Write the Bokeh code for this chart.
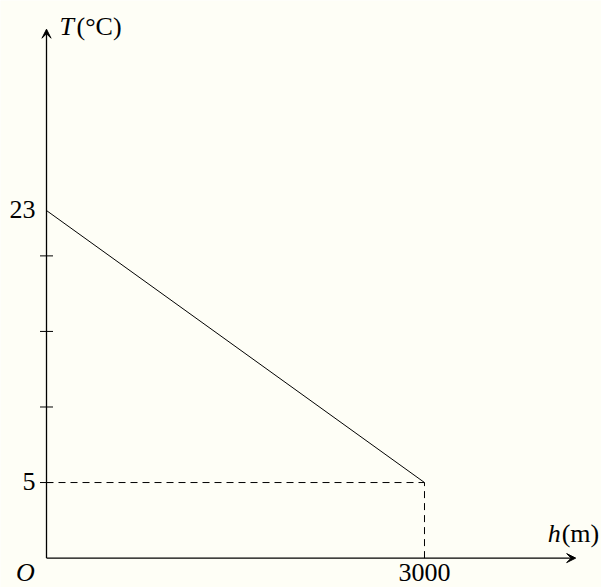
from bokeh.plotting import figure
from bokeh.models import Arrow, VeeHead, Range1d
from bokeh.embed import file_html
from bokeh.resources import INLINE
from bokeh.core.properties import value

# data
heights = [0, 3000]          # h (m)
temps = [23, 5]              # T (°C)
y_ticks = [5, 10, 15, 20]
y_tick_labels = {23: "23", 5: "5"}
x_tick_labels = {3000: "3000"}
x_axis_end = 4200
y_axis_end = 35

BG = "#fefef6"
FONT = value("Liberation Serif")
FS = "26px"
DY = -10

p = figure(width=601, height=587, output_backend="svg", toolbar_location=None,
           x_range=Range1d(-365.1, 4404.8), y_range=Range1d(-1.946, 36.90),
           min_border=0, background_fill_color=BG, border_fill_color=BG)
p.axis.visible = False
p.grid.visible = False
p.outline_line_color = None

# axes with arrows
p.add_layout(Arrow(end=VeeHead(size=9, line_color="black", fill_color="black", line_width=1),
                   x_start=0, y_start=0, x_end=x_axis_end, y_end=0,
                   line_color="black", line_width=1.3))
p.add_layout(Arrow(end=VeeHead(size=9, line_color="black", fill_color="black", line_width=1),
                   x_start=0, y_start=0, x_end=0, y_end=y_axis_end,
                   line_color="black", line_width=1.3))

# ticks on y axis
p.dash(x=[0] * len(y_ticks), y=y_ticks, size=13, line_color="black", line_width=1)

# main line
p.line(heights, temps, line_color="black", line_width=1)

# dashed guide lines
p.line([0, heights[1]], [temps[1], temps[1]], line_color="black", line_width=1, line_dash="7 5")
p.line([heights[1], heights[1]], [0, temps[1]], line_color="black", line_width=1, line_dash="7 5")

# y tick labels
yl = list(y_tick_labels.keys())
p.text(x=[0] * len(yl), y=yl, text=[y_tick_labels[k] for k in yl],
       text_align="right", text_baseline="alphabetic", x_offset=-11, y_offset=8.5 + DY,
       text_font=FONT, text_font_size=FS, text_color="black")

# x tick labels
xl = list(x_tick_labels.keys())
p.text(x=xl, y=[0] * len(xl), text=[x_tick_labels[k] for k in xl],
       text_align="center", text_baseline="alphabetic", y_offset=25.5 + DY - 1,
       text_font=FONT, text_font_size=FS, text_color="black")

# origin
p.text(x=[0], y=[0], text=["O"], text_align="center", text_baseline="alphabetic",
       x_offset=-21, y_offset=29.5 + DY - 5.5, text_font=FONT, text_font_style="italic",
       text_font_size=FS, text_color="black")

# axis titles
p.text(x=[0], y=[y_axis_end], text=["T"], text_align="left", text_baseline="alphabetic",
       x_offset=13, y_offset=7 + DY, text_font=FONT, text_font_style="italic",
       text_font_size=FS, text_color="black")
p.text(x=[0], y=[y_axis_end], text=["(°C)"], text_align="left", text_baseline="alphabetic",
       x_offset=30, y_offset=7 + DY, text_font=FONT,
       text_font_size=FS, text_color="black")
p.text(x=[x_axis_end], y=[0], text=["h"], text_align="left", text_baseline="alphabetic",
       x_offset=-28, y_offset=-14.6 + DY, text_font=FONT, text_font_style="italic",
       text_font_size=FS, text_color="black")
p.text(x=[x_axis_end], y=[0], text=["(m)"], text_align="left", text_baseline="alphabetic",
       x_offset=-14, y_offset=-14.6 + DY, text_font=FONT,
       text_font_size=FS, text_color="black")

open("out.html", "w").write(file_html(p, INLINE))
